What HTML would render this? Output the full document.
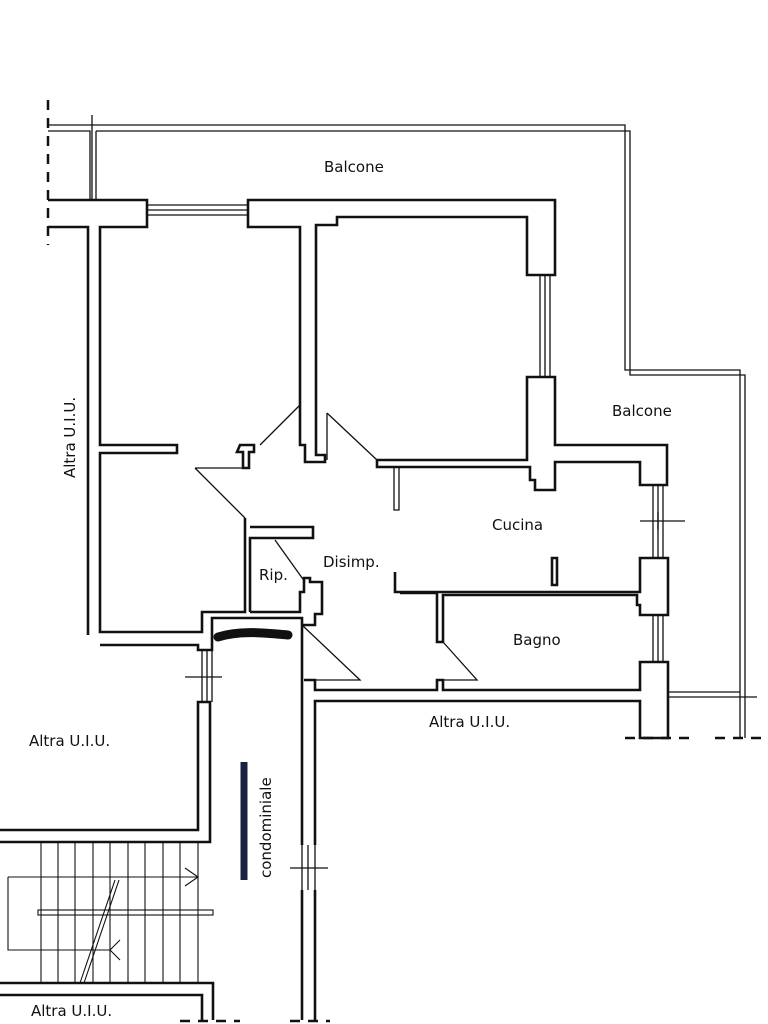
<!DOCTYPE html>
<html><head><meta charset="utf-8"><style>
html,body{margin:0;padding:0;background:#fff;}
svg{display:block}
text{font-family:"DejaVu Sans","Liberation Sans",sans-serif;font-size:15px;fill:#111}
</style></head><body>
<svg width="768" height="1024" viewBox="0 0 768 1024" xmlns="http://www.w3.org/2000/svg">
<g fill="none" stroke="#111" stroke-width="1.3">
<path d="M48,125 H625 V370 H740 V738"/>
<path d="M96,131 H630 V375 H745 V738"/>
<path d="M48,131 H90 V200"/>
<path d="M92,115 V200 M96,131 V200"/>
<path d="M668,692 H740 M668,697 H757"/>
<path d="M147,205 H248 M147,210 H248 M147,215 H248"/>
<path d="M540,275 V378 M545,275 V378 M550,275 V378"/>
<path d="M653,485 V558 M658,485 V558 M663,485 V558"/>
<path d="M653,615 V662 M658,615 V662 M663,615 V662"/>
<path d="M640,521 H685 M658,512 V530"/>
<path d="M394,467 V510 H399 V467"/>
<path d="M195,468 H243 M195,468 L245,518"/>
<path d="M260,445 L300,405 V445"/>
<path d="M327,413 V460 M327,413 L377,460"/>
<path d="M275,540 L305,582"/>
<path d="M302,625 L360,680 H315"/>
<path d="M443,642 L477,680 H443"/>
<path d="M202,650 V702 M207,650 V702 M212,650 V702 M185,677 H222"/>
<path d="M302,845 V890 M308,845 V890 M315,845 V890 M290,868 H328"/>
<g stroke-width="1.1">
<path d="M41,842 V983 M58,842 V983 M75,842 V983 M93,842 V983 M110,842 V983 M128,842 V983 M145,842 V983 M163,842 V983 M180,842 V983 M198,842 V983"/>
<path d="M8,877 H198 M185,868 L198,877 L185,886 M8,877 V950 H110 M110,950 L120,940 M110,950 L120,960"/>
<rect x="38" y="910" width="175" height="5"/>
<path d="M80,983 L115,880 M84,983 L119,880"/>
</g>
</g>
<g stroke="#111" stroke-width="2.5" stroke-dasharray="10,8" fill="none">
<path d="M48,100 V245"/>
<path d="M625,738 H690 M715,738 H768"/>
<path d="M180,1021 H240 M290,1021 H330"/>
</g>
<g fill="none" stroke="#111" stroke-width="2.6" stroke-linejoin="miter">
<path d="M48,200 H147 V227 H100 V445 H177 V453 H100 V632 H202 V612 H245 V518"/>
<path d="M48,227 H88 V635"/>
<path d="M248,200 H555 V275 H527 V217 H337 V225 H316 V455 H325 V462 H305 V445 H300 V227 H248 Z"/>
<path d="M377,460 H527 V377 H555 V445 H667 V485 H640 V462 H555 V490 H535 V480 H530 V467 H377 Z"/>
<path d="M240,445 H254 V452 H249 V468 H243 V452 H237 Z"/>
<path d="M250,612 V538 H313 V527 H250"/>
<path d="M250,612 H300 V592 H304 V578 H310 V582 H322 V614 H315 V625 H302"/>
<path d="M100,645 H198 V650 H212 V618 H302 V625"/>
<path d="M0,830 H198 V702 H210 V842 H0"/>
<path d="M395,572 V592 H640 V558 H668 V615 H640 V605 H637 V595 H443 V642 H437 V593 H400"/>
<path d="M552,558 V585 H557 V558 Z"/>
<path d="M304,680 H315 V690 H437 V680 H443 V690 H640 V662 H668 V738 H640 V701 H315 V845"/>
<path d="M302,625 V845 M302,890 V1020 M315,890 V1020"/>
<path d="M0,983 H213 V1020 M0,995 H202 V1020"/>
</g>
<path d="M218,637 C240,630 265,633 288,635" stroke="#111" stroke-width="9" stroke-linecap="round" fill="none"/>
<path d="M244,762 V880" stroke="#1a2040" stroke-width="7" fill="none"/>
<text x="324" y="172">Balcone</text>
<text x="612" y="416">Balcone</text>
<text x="492" y="530">Cucina</text>
<text x="323" y="567">Disimp.</text>
<text x="259" y="580">Rip.</text>
<text x="513" y="645">Bagno</text>
<text x="429" y="727">Altra U.I.U.</text>
<text x="29" y="746">Altra U.I.U.</text>
<text x="31" y="1016">Altra U.I.U.</text>
<text transform="translate(75,478) rotate(-90)">Altra U.I.U.</text>
<text transform="translate(271,878) rotate(-90)">condominiale</text>
</svg>
</body></html>
